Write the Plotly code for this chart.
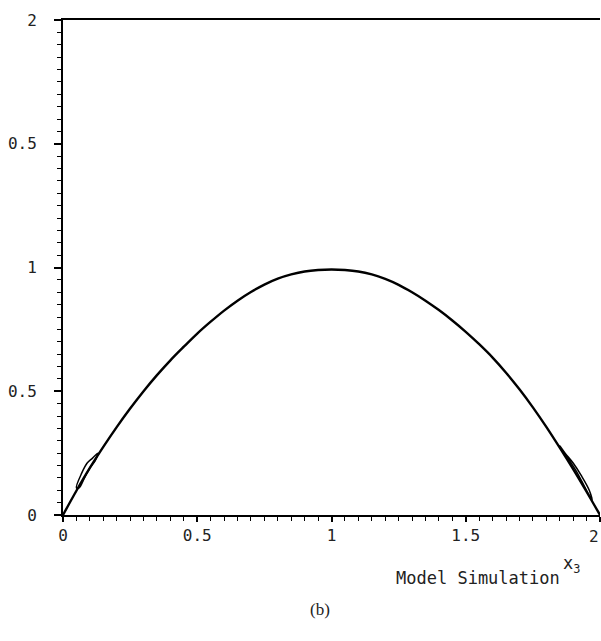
import plotly.graph_objects as go

# Main trajectory
x3 = [0.0, 0.05, 0.1, 0.15, 0.2, 0.25, 0.3, 0.35, 0.4, 0.45, 0.5, 0.55, 0.6, 0.65, 0.7,
      0.75, 0.8, 0.85, 0.9, 0.95, 1.0, 1.05, 1.1, 1.15, 1.2, 1.25, 1.3, 1.35, 1.4, 1.45,
      1.5, 1.55, 1.6, 1.65, 1.7, 1.75, 1.8, 1.85, 1.9, 1.95, 2.0]
y_val = [0.0, 0.098, 0.19, 0.275, 0.355, 0.43, 0.50, 0.565, 0.625, 0.68, 0.733, 0.781, 0.826,
         0.866, 0.901, 0.931, 0.955, 0.972, 0.984, 0.99, 0.992, 0.99, 0.984, 0.972, 0.954,
         0.93, 0.90, 0.866, 0.828, 0.786, 0.74, 0.69, 0.636, 0.575, 0.508, 0.435, 0.356,
         0.272, 0.185, 0.094, 0.0]

# Small loops near the ends
loop_left_x = [0.05, 0.07, 0.09, 0.11, 0.13, 0.12, 0.10, 0.08, 0.06, 0.05]
loop_left_y = [0.11, 0.17, 0.21, 0.23, 0.25, 0.22, 0.19, 0.15, 0.11, 0.11]
loop_right_x = [1.85, 1.88, 1.91, 1.94, 1.97, 1.96, 1.93, 1.90, 1.87, 1.85]
loop_right_y = [0.28, 0.23, 0.18, 0.12, 0.06, 0.10, 0.16, 0.21, 0.25, 0.28]

x_tickvals = [0, 0.5, 1, 1.5, 2]
x_ticktext = ["0", "0.5", "1", "1.5", ""]
x_last_label = "2"   # drawn right-aligned at the axis end so it stays inside the page
y_tickvals = [0, 0.5, 1, 1.5, 2]
y_ticktext = ["0", "0.5", "1", "0.5", "2"]

mono = "DejaVu Sans Mono"

fig = go.Figure()
fig.add_trace(go.Scatter(x=x3, y=y_val, mode="lines", line=dict(color="black", width=2.4, shape="spline"),
                         showlegend=False))
fig.add_trace(go.Scatter(x=loop_left_x, y=loop_left_y, mode="lines", line=dict(color="black", width=1.5, shape="spline"),
                         showlegend=False))
fig.add_trace(go.Scatter(x=loop_right_x, y=loop_right_y, mode="lines", line=dict(color="black", width=1.5, shape="spline"),
                         showlegend=False))

fig.update_layout(
    width=601, height=641,
    margin=dict(l=63, r=1, t=20, b=126),
    paper_bgcolor="white", plot_bgcolor="white",
    font=dict(family=mono, size=16, color="#222"),
)
fig.update_xaxes(
    range=[0, 2], showgrid=False, zeroline=False, automargin=False,
    showline=True, linecolor="black", linewidth=2, mirror=True,
    ticks="outside", ticklen=5, tickwidth=1.5, tickcolor="black",
    tickvals=x_tickvals, ticktext=x_ticktext,
    minor=dict(dtick=0.05, ticks="outside", ticklen=4, tickcolor="black", tickwidth=1.2, showgrid=False),
    ticklabelstandoff=0,
    tickfont=dict(family=mono, size=16, color="#222"),
)
fig.update_yaxes(
    range=[0, 2], showgrid=False, zeroline=False, automargin=False,
    showline=True, linecolor="black", linewidth=2, mirror=False,
    ticks="outside", ticklen=7, tickwidth=1.5, tickcolor="black",
    tickvals=y_tickvals, ticktext=y_ticktext,
    minor=dict(dtick=0.05, ticks="outside", ticklen=4, tickcolor="black", tickwidth=1.2, showgrid=False),
    ticklabelstandoff=14,
    tickfont=dict(family=mono, size=16, color="#222"),
)

fig.add_annotation(x=x_tickvals[-1], y=0, xref="x", yref="paper", xanchor="right", yanchor="top",
                   xshift=1, yshift=-10, text=x_last_label, showarrow=False,
                   font=dict(family=mono, size=16, color="#222"))
fig.add_annotation(x=1, y=0, xref="paper", yref="paper", xanchor="right", yanchor="top",
                   xshift=-38, yshift=-51, text="Model Simulation", showarrow=False,
                   font=dict(family=mono, size=17, color="#222"))
fig.add_annotation(x=1, y=0, xref="paper", yref="paper", xanchor="right", yanchor="top",
                   xshift=-18, yshift=-36, text="x<sub>3</sub>", showarrow=False,
                   font=dict(family=mono, size=17, color="#222"))
fig.add_annotation(x=0.5, y=0, xref="paper", yref="paper", xanchor="center", yanchor="top",
                   xshift=-12, yshift=-83, text="(b)", showarrow=False,
                   font=dict(family="Liberation Serif", size=17, color="#222"))

fig.write_html("out.html")
